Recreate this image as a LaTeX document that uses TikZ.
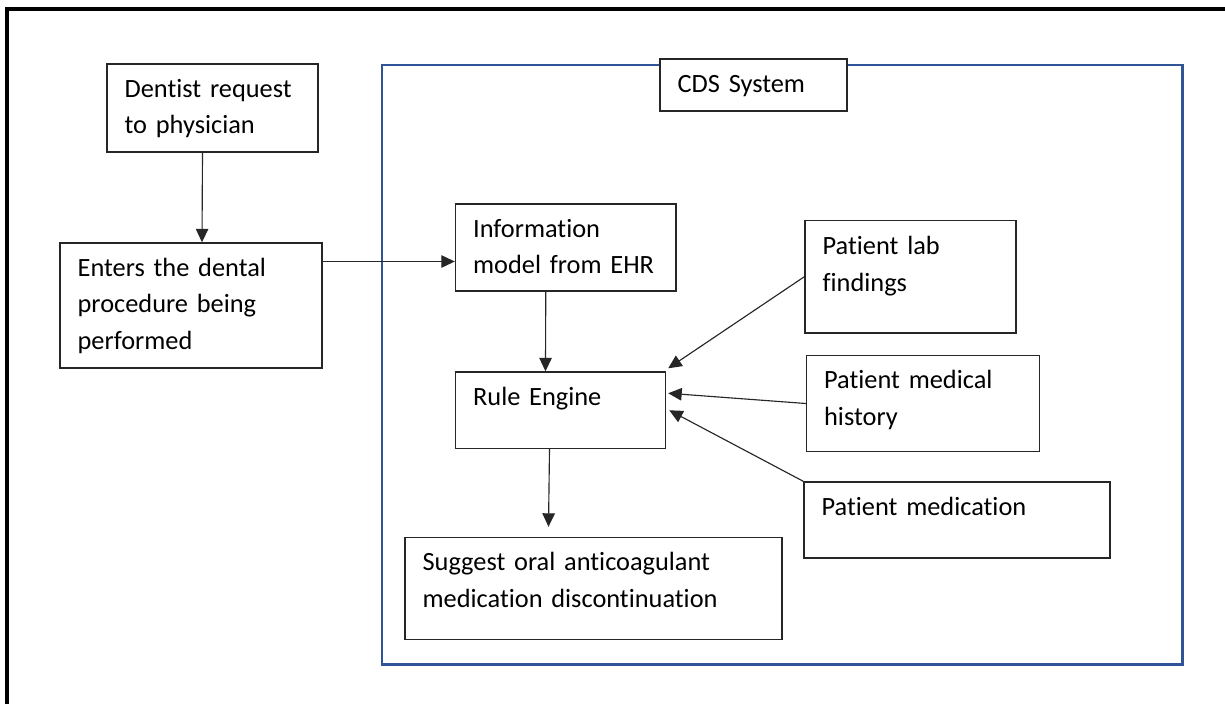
\documentclass[tikz,border=0pt]{standalone}
\usepackage{fontspec}
\setmainfont[Ligatures=NoCommon]{Carlito}
\usetikzlibrary{arrows.meta,fit}
\definecolor{cdsblue}{RGB}{47,85,151}
\begin{document}
\begin{tikzpicture}[x=0.02cm,y=-0.02cm,
        box/.style={draw=black!85,line width=0.8pt,inner sep=0pt},
        txt/.style={anchor=base west,inner sep=0pt,text width=6cm,align=left,font=\fontsize{15}{20.8}\selectfont},
        arr/.style={draw=black!85,line width=0.65pt,-{Triangle[length=0.27cm,width=0.25cm]}}]
        \useasboundingbox (0,0) rectangle (1225,704);
        \draw[line width=1.8pt] (7,704) -- (7,9) -- (1225,9);

        \node[draw=cdsblue,line width=1.7pt,inner sep=0pt,fit={(382,65) (1182,664)}] (cds) {};
        \node[box,fill=white,fit={(660,59) (847,111)}] (cdslabel) {};
        \node[box,fit={(107,64) (318,152)}] (dentist) {};
        \node[box,fit={(60,243) (322,368)}] (enters) {};
        \node[box,fit={(455.5,204) (676,291)}] (info) {};
        \node[box,fit={(455.5,372) (665.5,448.5)}] (rule) {};
        \node[box,fit={(405,537.5) (782,639.5)}] (suggest) {};
        \node[box,fit={(805,220.5) (1016,333)}] (lab) {};
        \node[box,fit={(806.5,355.5) (1039.5,451.5)}] (history) {};
        \node[box,fit={(804,482) (1110,558)}] (medication) {};

        \node[txt] (cdslabeltext) at ([shift={(18,34)}]cdslabel.north west) {CDS System};
        \node[txt] (dentisttext) at ([shift={(18,34)}]dentist.north west) {Dentist request\\to physician};
        \node[txt] (enterstext) at ([shift={(18,34)}]enters.north west) {Enters the dental\\procedure being\\performed};
        \node[txt] (infotext) at ([shift={(18,34)}]info.north west) {Information\\model from EHR};
        \node[txt] (ruletext) at ([shift={(18,34)}]rule.north west) {Rule Engine};
        \node[txt] (suggesttext) at ([shift={(18,34)}]suggest.north west) {Suggest oral anticoagulant\\medication discontinuation};
        \node[txt] (labtext) at ([shift={(18,35)}]lab.north west) {Patient lab\\findings};
        \node[txt] (historytext) at ([shift={(18,34)}]history.north west) {Patient medical\\history};
        \node[txt] (medicationtext) at ([shift={(18,34)}]medication.north west) {Patient medication};

        \coordinate (inflow) at ([shift={(0,14)}]info.west);
        \draw[arr] ([shift={(-10,0)}]dentist.south) -- ([shift={(11,0)}]enters.north);
        \draw[arr] (enters.east |- inflow) -- (inflow);
        \draw[arr] ([shift={(-20,0)}]info.south) -- ([shift={(-15,0)}]rule.north);
        \draw[arr] ([shift={(-11,0)}]rule.south) -- ([shift={(-45,-10)}]suggest.north);
        \draw[arr] (lab.west) -- ([shift={(2,-3)}]rule.north east);
        \draw[arr] (history.west) -- ([shift={(2,-17)}]rule.east);
        \draw[arr] (medication.north west) -- ([shift={(3,0)}]rule.east);
\end{tikzpicture}
\end{document}
